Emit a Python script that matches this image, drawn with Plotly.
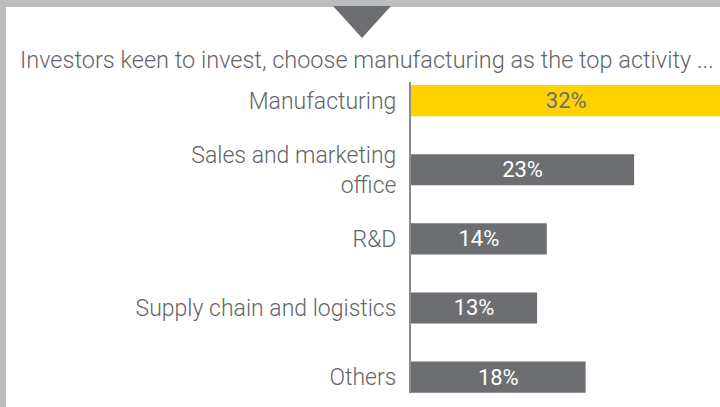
import plotly.graph_objects as go

# ---- data ----
categories = ["Manufacturing", "Sales and marketing<br>office", "R&D",
              "Supply chain and logistics", "Others"]
shares = [32, 23, 14, 13, 18]
title_text = "Investors keen to invest, choose manufacturing as the top activity ..."

# ---- style ----
W, H = 720, 407
ML, MR, MT, MB = 411, 0, 82, 14
YELLOW = "#FFD200"
GREY = "#6D6E71"
LIGHT = "#BCBDBF"
TEXT = "#646569"
FONT = "Roboto"

bar_colors = [YELLOW] + [GREY] * (len(shares) - 1)
text_colors = [GREY] + ["white"] * (len(shares) - 1)

fig = go.Figure(go.Bar(
    x=shares,
    y=list(range(len(categories))),
    orientation="h",
    marker=dict(color=bar_colors, line=dict(width=0)),
    width=0.45,
    text=[f"{v}%" for v in shares],
    textposition="inside",
    insidetextanchor="middle",
    textangle=0,
    constraintext="none",
    textfont=dict(family=FONT, size=22, color=text_colors),
    hoverinfo="skip",
))

pw = W - ML - MR
ph = H - MT - MB


def px_x(px):
    return (px - ML) / pw


def px_y(py):
    return (H - MB - py) / ph


shapes = [
    # top band
    dict(type="rect", xref="paper", yref="paper", x0=px_x(0), x1=px_x(W),
         y0=px_y(7), y1=px_y(0), fillcolor=LIGHT, line=dict(width=0), layer="above"),
    # left band
    dict(type="rect", xref="paper", yref="paper", x0=px_x(0), x1=px_x(6),
         y0=px_y(H), y1=px_y(0), fillcolor=LIGHT, line=dict(width=0), layer="above"),
    # triangle pointer
    dict(type="path", xref="paper", yref="paper",
         path=f"M {px_x(333)},{px_y(6)} L {px_x(391)},{px_y(6)} L {px_x(362)},{px_y(38)} Z",
         fillcolor=GREY, line=dict(width=0), layer="above"),
]

fig.update_layout(
    width=W, height=H,
    margin=dict(l=ML, r=MR, t=MT, b=MB, pad=0),
    paper_bgcolor="white", plot_bgcolor="white",
    showlegend=False,
    shapes=shapes,
    title=dict(text=title_text, xref="container", yref="container",
               x=20 / W, xanchor="left", y=1 - 60 / H, yanchor="middle",
               font=dict(family=FONT, size=23.5, color=TEXT, weight=300)),
    xaxis=dict(range=[0, pw / 9.7], visible=False, showgrid=False, zeroline=False,
               fixedrange=True),
    yaxis=dict(range=[4.23, -0.27], tickvals=list(range(len(categories))),
               ticktext=categories, showgrid=False, zeroline=False,
               showline=True, linecolor="#8A8B8E", linewidth=2, ticks="",
               ticklabelstandoff=8, fixedrange=True,
               tickfont=dict(family=FONT, size=23, color=TEXT, weight=300)),
    bargap=0.55,
)

fig.write_html(
    "out.html",
    config={"displayModeBar": False, "staticPlot": True},
    post_script="document.body.style.margin='0';document.body.style.overflow='hidden';",
)
